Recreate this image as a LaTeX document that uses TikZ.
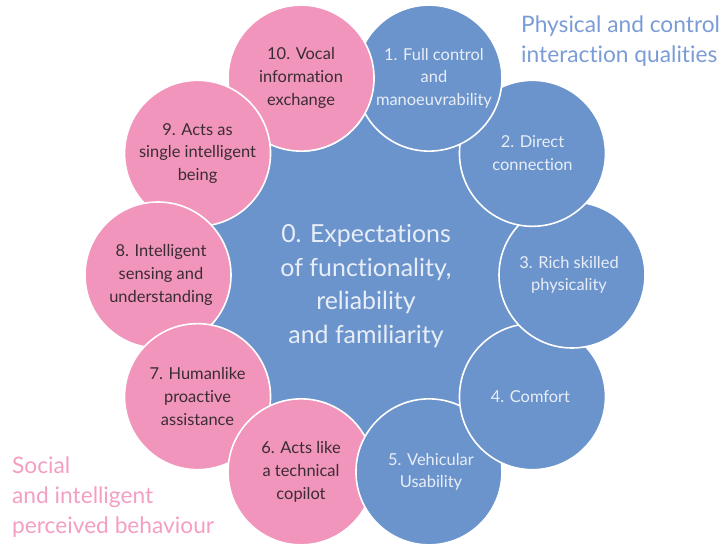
\documentclass[tikz,border=0pt]{standalone}
\usepackage{fontspec}
\setmainfont{Lato}[Ligatures={NoCommon}]
\usepackage{xcolor}
\usepackage{tikz}
\usetikzlibrary{positioning}
\usetikzlibrary{calc}

\definecolor{ringblue}{RGB}{108,148,204}
\definecolor{ringpink}{RGB}{241,149,188}
\definecolor{bluetextcol}{RGB}{232,238,248}
\definecolor{pinktextcol}{RGB}{58,44,52}
\definecolor{titleblue}{RGB}{122,156,214}
\definecolor{titlepink}{RGB}{244,158,196}

\tikzset{
  hub/.style={circle, fill=ringblue, minimum size=320bp, inner sep=0pt},
  ring/.style={circle, draw=white, line width=1.6bp, minimum size=146bp, inner sep=0pt},
  ringtext/.style={align=center, inner sep=0pt, font=\fontsize{16.5}{22.8}\selectfont},
  bluetext/.style={ringtext, text=bluetextcol},
  pinktext/.style={ringtext, text=pinktextcol},
  hubtext/.style={align=center, inner sep=0pt, text=bluetextcol, font=\fontsize{25}{33.5}\selectfont},
  headline/.style={align=left, inner sep=0pt, font=\fontsize{22.8}{30}\selectfont},
}

\begin{document}
\begin{tikzpicture}[x=1bp, y=1bp]
  \useasboundingbox (0,0) rectangle (724,547);
  % centre disc
  \node [hub] (c0) at (365,272) {};
  % ring: every circle lies over the next one
  \foreach \i/\ang/\col in {10/108/ringpink, 9/144/ringpink, 8/180/ringpink,
      7/216/ringpink, 6/252/ringpink, 5/288/ringblue, 4/324/ringblue,
      3/0/ringblue, 2/36/ringblue, 1/72/ringblue}
    \node [ring, fill=\col] (c\i) at ($(c0)+(\ang:207)$) {};
  % close the cycle: 10 over 1
  \begin{scope}
    \clip (301.6,0) rectangle (724,547);
    \fill [ringpink] (c10) circle (73);
    \draw [white, line width=1.6bp] (c10) circle (73);
  \end{scope}

  % texts
  \node [hubtext] (t0) at (366,261) {0. Expectations\\of functionality,\\reliability\\and familiarity};
  \node [bluetext] (t1) at ($(c1)+(5,0)$) {1. Full control\\and\\manoeuvrability};
  \node [bluetext] (t2) at (c2) {2. Direct\\connection};
  \node [bluetext] (t3) at ($(c3)+(-3,0)$) {3. Rich skilled\\physicality};
  \node [bluetext] (t4) at ($(c4)+(-2,0)$) {4. Comfort};
  \node [bluetext] (t5) at ($(c5)+(2,0)$) {5. Vehicular\\Usability};
  \node [pinktext] (t6) at (c6) {6. Acts like\\a technical\\copilot};
  \node [pinktext] (t7) at (c7) {7. Humanlike\\proactive\\assistance};
  \node [pinktext] (t8) at ($(c8)+(3,0)$) {8. Intelligent\\sensing and\\understanding};
  \node [pinktext] (t9) at (c9) {9. Acts as\\single intelligent\\being};
  \node [pinktext] (t10) at (c10) {10. Vocal\\information\\exchange};

  % group headings
  \node [headline, text=titleblue, anchor=north west] (physical) at (521,531) {Physical and control\\interaction qualities};
  \node [headline, text=titlepink, anchor=north west] (social) at (12,90) {Social\\and intelligent\\perceived behaviour};
\end{tikzpicture}
\end{document}
